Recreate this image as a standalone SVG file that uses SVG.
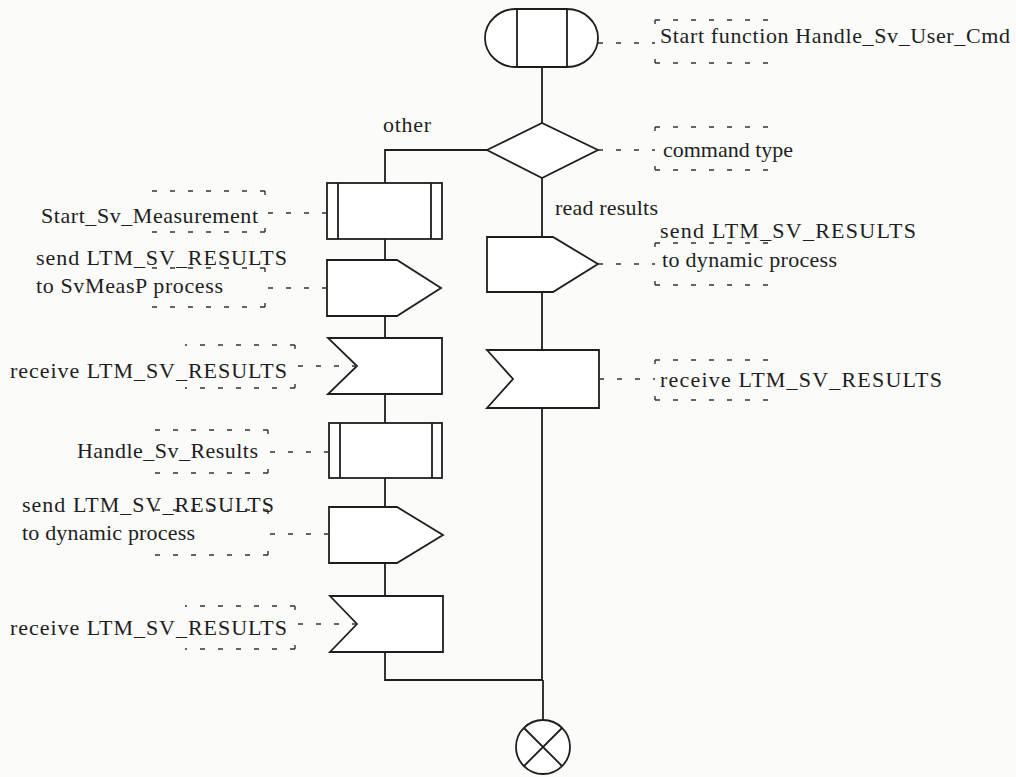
<svg xmlns="http://www.w3.org/2000/svg" width="1016" height="777" viewBox="0 0 1016 777">
<style>
.s{fill:#fff;stroke:#1e1e1e;stroke-width:1.8;stroke-linejoin:miter}
.l{fill:none;stroke:#1e1e1e;stroke-width:1.8}
.cm{fill:none;stroke:#333;stroke-width:1.4;stroke-dasharray:5 13}
.tk{fill:none;stroke:#333;stroke-width:1.4}
text{font-family:'Liberation Serif','DejaVu Serif',serif;font-size:22px;fill:#1e1e1e}
</style>
<rect width="1016" height="777" fill="#fbfbfa"/>
<g id="connectors">
<path class="l" d="M542,67 V123"/>
<path class="l" d="M487,150 H385 V183"/>
<path class="l" d="M385,239 V260 M385,316 V338 M385,394 V423 M385,478 V507 M385,563 V596 M385,652 V680 H543"/>
<path class="l" d="M542,178 V237 M542,292 V350 M542,408 V680 M543,680 V720"/>
<text x="383" y="132" textLength="48" lengthAdjust="spacing">other</text>
<text x="555" y="215" textLength="103" lengthAdjust="spacing">read results</text>
</g>
<g id="start">
<rect class="s" x="485" y="9" width="113" height="58" rx="31" ry="29"/>
<path class="l" d="M517,9 V67 M567,9 V67"/>
<path class="cm" d="M598,43 H655 M655,20 H770 M655,63 H770"/>
<path class="tk" d="M655,20 V24 M655,59 V63"/>
<text x="660" y="43" textLength="350" lengthAdjust="spacing">Start function Handle_Sv_User_Cmd</text>
</g>
<g id="decision">
<polygon class="s" points="487,150 542,123 598,150 542,178"/>
<path class="cm" d="M598,150 H655 M655,127 H770 M655,170 H770"/>
<path class="tk" d="M655,127 V131 M655,166 V170"/>
<text x="663" y="157" textLength="130" lengthAdjust="spacing">command type</text>
</g>
<g id="startMeas">
<rect class="s" x="327" y="183" width="115" height="56"/>
<path class="l" d="M338,183 V239 M431,183 V239"/>
<path class="cm" d="M327,213 H265 M265,191 H150 M265,232 H150"/>
<path class="tk" d="M265,191 V195 M265,228 V232"/>
<text x="41" y="223" textLength="217" lengthAdjust="spacing">Start_Sv_Measurement</text>
</g>
<g id="send1">
<path class="s" d="M327,260 H397 L441,288 L397,316 H327 Z"/>
<path class="cm" d="M327,288 H265 M265,268 H150 M265,307 H150"/>
<path class="tk" d="M265,268 V272 M265,303 V307"/>
<text x="36" y="265" textLength="251" lengthAdjust="spacing">send LTM_SV_RESULTS</text>
<text x="36" y="293" textLength="187" lengthAdjust="spacing">to SvMeasP process</text>
</g>
<g id="recv1">
<path class="s" d="M328,338 H442 V394 H328 L357,366 Z"/>
<path class="cm" d="M357,366 H295 M295,345 H185 M295,388 H185"/>
<path class="tk" d="M295,345 V349 M295,384 V388"/>
<text x="10" y="378" textLength="277" lengthAdjust="spacing">receive LTM_SV_RESULTS</text>
</g>
<g id="handleRes">
<rect class="s" x="329" y="423" width="113" height="55"/>
<path class="l" d="M340,423 V478 M432,423 V478"/>
<path class="cm" d="M329,452 H268 M268,430 H155 M268,473 H155"/>
<path class="tk" d="M268,430 V434 M268,469 V473"/>
<text x="77" y="458" textLength="181" lengthAdjust="spacing">Handle_Sv_Results</text>
</g>
<g id="send2">
<path class="s" d="M329,507 H397 L443,535 L397,563 H329 Z"/>
<path class="cm" d="M329,534 H268 M268,510 H155 M268,555 H155"/>
<path class="tk" d="M268,510 V514 M268,551 V555"/>
<text x="22" y="512" textLength="252" lengthAdjust="spacing">send LTM_SV_RESULTS</text>
<text x="22" y="540" textLength="173" lengthAdjust="spacing">to dynamic process</text>
</g>
<g id="recv2">
<path class="s" d="M330,596 H443 V652 H330 L357,624 Z"/>
<path class="cm" d="M357,624 H295 M295,606 H185 M295,649 H185"/>
<path class="tk" d="M295,606 V610 M295,645 V649"/>
<text x="10" y="635" textLength="277" lengthAdjust="spacing">receive LTM_SV_RESULTS</text>
</g>
<g id="sendR">
<path class="s" d="M487,237 H553 L598,264 L553,292 H487 Z"/>
<path class="cm" d="M598,264 H655 M655,243 H770 M655,285 H770"/>
<path class="tk" d="M655,243 V247 M655,281 V285"/>
<text x="660" y="238" textLength="256" lengthAdjust="spacing">send LTM_SV_RESULTS</text>
<text x="662" y="267" textLength="175" lengthAdjust="spacing">to dynamic process</text>
</g>
<g id="recvR">
<path class="s" d="M487,350 H599 V408 H487 L513,379 Z"/>
<path class="cm" d="M599,379 H655 M655,360 H770 M655,400 H770"/>
<path class="tk" d="M655,360 V364 M655,396 V400"/>
<text x="660" y="387" textLength="282" lengthAdjust="spacing">receive LTM_SV_RESULTS</text>
</g>
<g id="stop">
<circle class="s" cx="543" cy="747" r="27"/>
<path class="l" d="M524,728 L562,766 M562,728 L524,766"/>
</g>
</svg>
